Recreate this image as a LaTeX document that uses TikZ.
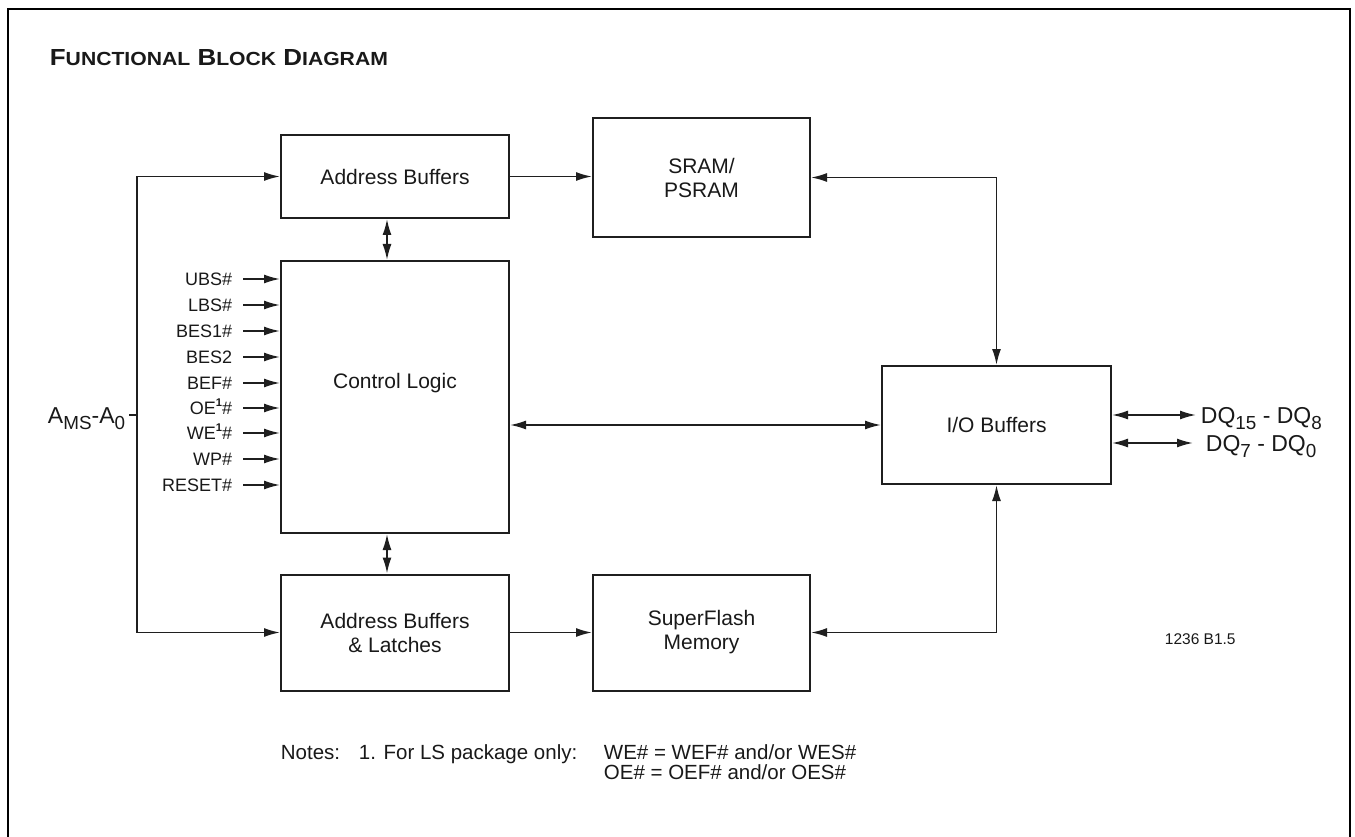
\documentclass[tikz,border=0pt]{standalone}
\usepackage{fontspec}
\setmainfont{Liberation Sans}
\usetikzlibrary{arrows.meta,calc}
\newcommand\dnsub[1]{\raisebox{-0.28em}{\scalebox{0.82}{#1}}}
\newcommand\upsup[1]{\raisebox{0.42em}{\scalebox{0.62}{\bfseries #1}}}
\newcommand\smcap[1]{{\fontsize{15.5}{15.5}\selectfont #1}}
\begin{document}
\begin{tikzpicture}[x=1pt,y=-1pt,
  line width=1.8pt, draw=black!88, text=black!90,
  box/.style={draw=black!88, line width=2pt, align=center, inner sep=0pt,
    font=\fontsize{21}{24}\selectfont},
  tip/.style={-{Latex[length=16pt,width=9pt]}},
  dtip/.style={{Latex[length=16pt,width=9pt]}-{Latex[length=16pt,width=9pt]}},
  sig/.style={anchor=east, inner sep=0pt, font=\fontsize{18}{20}\selectfont,
    text height=13pt, text depth=0pt},
  big/.style={inner sep=0pt, font=\fontsize{23}{25}\selectfont,
    text height=16.5pt, text depth=0pt},
  note/.style={anchor=west, inner sep=0pt, font=\fontsize{20.5}{22}\selectfont,
    text height=15pt, text depth=0pt},
]
\useasboundingbox (0,0) rectangle (1355,837);
\fill[white] (0,0) rectangle (1355,837);
% frame
\draw[line width=2.8pt, draw=black, line join=miter] (8,837) -- (8,9) -- (1350,9) -- (1350,837);

% title
\node[anchor=west, inner sep=0pt] (title) at (49,58)
  {\resizebox{338pt}{16pt}{\bfseries\fontsize{19}{19}\selectfont F\smcap{UNCTIONAL} B\smcap{LOCK} D\smcap{IAGRAM}}};

% blocks
\node[box, minimum width=228pt, minimum height=83pt]  (AB)  at (395,176.5) {Address Buffers};
\node[box, minimum width=217pt, minimum height=119pt] (SR)  at (701.5,177.5) {SRAM/\\PSRAM};
\node[box, minimum width=228pt, minimum height=272pt] (CL)  at (395,397) {};
\node[inner sep=0pt, font=\fontsize{21}{24}\selectfont] (CLt) at (395,383) {Control Logic};
\node[box, minimum width=228pt, minimum height=116pt] (ABL) at (395,632.5) {Address Buffers\\\& Latches};
\node[box, minimum width=217pt, minimum height=116pt] (SF)  at (701.5,632.5) {SuperFlash\\Memory};
\node[box, minimum width=229pt, minimum height=118pt] (IO)  at (996.5,425) {I/O Buffers};

% address bus
\coordinate (busT) at ($(AB.west)+(-143,0)$);
\coordinate (busB) at (busT |- ABL.west);
\draw[tip] (busT) -- (AB.west);
\draw[tip, line join=miter] (busT) -- (busB) -- (ABL.west);
\node[big, anchor=east] (AMS) at (126,415) {A\dnsub{MS}-A\dnsub{0}};
\draw ([xshift=3pt]AMS.east) -- (AMS.east -| busT);

% control signals
\foreach \nm/\t/\yy in {s1/UBS\#/279, s2/LBS\#/305, s3/BES1\#/331, s4/BES2/357,
  s5/BEF\#/383, s6/{OE\upsup{1}\#}/408, s7/{WE\upsup{1}\#}/433, s8/WP\#/459, s9/RESET\#/485}{
  \node[sig] (\nm) at (233,\yy) {\t};
  \draw[tip] ([xshift=10pt]\nm.east) -- (\nm.east -| CL.west);
}

% data paths
\draw[tip] (AB.east) -- (AB.east -| SR.west);
\draw[tip] (ABL.east) -- (ABL.east -| SF.west);
\draw[dtip] ([xshift=-8pt]AB.south) -- ([xshift=-8pt]CL.north);
\draw[dtip] ([xshift=-8pt]CL.south) -- ([xshift=-8pt]ABL.north);
\draw[dtip] (CL.east |- IO.west) -- (IO.west);
\draw[dtip, line join=miter] (IO.north) -- (IO.north |- SR.east) -- (SR.east);
\draw[dtip, line join=miter] (IO.south) -- (IO.south |- SF.east) -- (SF.east);

% DQ
\node[big, anchor=west] (dq1) at (1200,415) {DQ\dnsub{15} - DQ\dnsub{8}};
\node[big, anchor=west] (dq2) at (1205,443) {DQ\dnsub{7} - DQ\dnsub{0}};
\draw[dtip] (IO.east |- dq1.west) -- ([xshift=-4pt]dq1.west);
\draw[dtip] (IO.east |- dq2.west) -- ([xshift=-12pt]dq2.west);

% figure id
\node[anchor=west, inner sep=0pt, font=\fontsize{15.5}{17}\selectfont,
  text height=11pt, text depth=0pt] (fig) at (1164,639) {1236 B1.5};

% notes
\node[note] (n1) at (280,752) {Notes:};
\node[note] (n2) at (358,752) {1. For LS package only:};
\node[note] (n3) at (603,752) {WE\# = WEF\# and/or WES\#};
\node[note] (n4) at (603,772) {OE\# = OEF\# and/or OES\#};
\end{tikzpicture}
\end{document}
